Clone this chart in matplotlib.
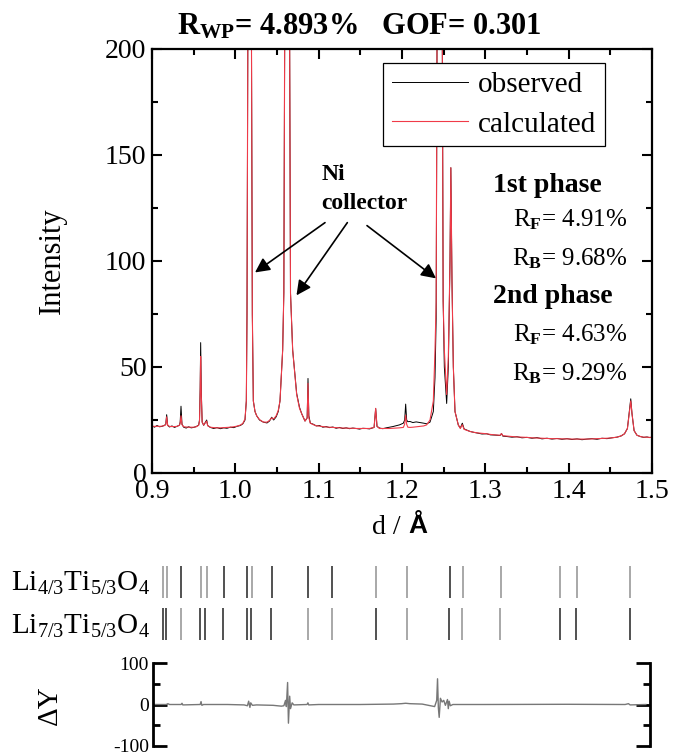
import numpy as np
import matplotlib
matplotlib.use("Agg")
import matplotlib.pyplot as plt
from matplotlib.ticker import MultipleLocator, FormatStrFormatter

plt.rcParams['font.family'] = ['Liberation Serif', 'DejaVu Serif']
plt.rcParams['mathtext.fontset'] = 'custom'
plt.rcParams['mathtext.rm'] = 'Liberation Serif'
plt.rcParams['mathtext.it'] = 'Liberation Serif:italic'
plt.rcParams['mathtext.bf'] = 'Liberation Serif:bold'

# profile: d spacing, observed and calculated intensity
d = [0.900, 0.903, 0.906, 0.909, 0.912, 0.915, 0.9165, 0.9176, 0.9188, 0.921, 0.924, 0.927, 0.930, 0.933,
     0.9338, 0.9348, 0.9360, 0.938, 0.941, 0.944, 0.947, 0.950, 0.953, 0.956, 0.9570, 0.9578, 0.9584, 0.9592,
     0.9602, 0.962, 0.9656, 0.9668, 0.970, 0.974, 0.978, 0.982, 0.986, 0.990, 0.994, 0.998, 1.002, 1.006,
     1.009, 1.0116, 1.0132, 1.0140, 1.0150, 1.0172, 1.0194, 1.0204, 1.0216, 1.0236, 1.0256, 1.029, 1.0336,
     1.038, 1.041, 1.0436, 1.046, 1.049, 1.0515, 1.0536, 1.0568, 1.0582, 1.0592, 1.0622, 1.0652, 1.0662,
     1.0688, 1.0736, 1.0770, 1.0796, 1.0836, 1.0862, 1.0872, 1.0882, 1.0900, 1.0936, 1.097, 1.101, 1.105,
     1.109, 1.113, 1.117, 1.121, 1.125, 1.129, 1.133, 1.137, 1.141, 1.145, 1.149, 1.153, 1.157, 1.161,
     1.1665, 1.1684, 1.1700, 1.173, 1.177, 1.181, 1.185, 1.189, 1.193, 1.197, 1.2016, 1.2032, 1.2044,
     1.2056, 1.2070, 1.2096, 1.213, 1.217, 1.2216, 1.226, 1.2296, 1.2336, 1.2376, 1.2396, 1.2410, 1.2420,
     1.2452, 1.2484, 1.2494, 1.2508, 1.2536, 1.2556, 1.2576, 1.2586, 1.2600, 1.2616, 1.2636, 1.2676, 1.2700,
     1.2724, 1.2745, 1.2780, 1.2816, 1.286, 1.291, 1.296, 1.3016, 1.306, 1.311, 1.3176, 1.3194, 1.321,
     1.326, 1.332, 1.338, 1.344, 1.350, 1.356, 1.362, 1.368, 1.374, 1.380, 1.386, 1.392, 1.398, 1.404,
     1.410, 1.416, 1.422, 1.428, 1.434, 1.440, 1.446, 1.452, 1.458, 1.463, 1.467, 1.4705, 1.4730, 1.4745,
     1.4760, 1.4785, 1.482, 1.486, 1.490, 1.494, 1.497, 1.500]
observed = [22.3, 21.6, 22.4, 21.8, 22.0, 22.5, 23.0, 27.5, 22.5, 21.7, 22.2, 21.5, 22.0, 22.6,
            24.0, 31.5, 23.0, 21.6, 21.2, 21.8, 21.3, 21.5, 21.9, 22.6, 25.0, 40.0, 61.5, 38.0,
            24.0, 22.5, 25.0, 22.4, 21.5, 21.0, 21.4, 20.9, 21.3, 21.1, 21.6, 21.4, 22.0, 22.4,
            23.2, 25.0, 34.0, 75.0, 200.0, 600.0, 200.0, 75.0, 34.0, 29.0, 27.0, 25.0, 24.0,
            23.6, 24.5, 26.3, 25.0, 26.5, 29.0, 34.0, 58.0, 85.0, 200.0, 600.0, 200.0, 85.0,
            58.0, 37.5, 31.0, 28.0, 24.5, 26.0, 44.6, 27.0, 23.5, 23.0, 22.2, 22.4, 21.6,
            21.9, 21.4, 21.7, 21.1, 21.5, 21.0, 21.3, 20.9, 21.2, 21.0, 20.7, 21.1, 21.0, 20.8,
            21.5, 30.4, 22.0, 21.2, 20.9, 21.3, 21.6, 21.9, 22.3, 22.7, 23.5, 25.0, 32.5,
            25.0, 24.2, 24.3, 23.8, 24.1, 23.8, 23.5, 23.2, 24.0, 29.0, 45.0, 73.0, 200.0,
            600.0, 200.0, 81.0, 50.0, 32.8, 50.0, 100.0, 144.0, 90.0, 50.0, 29.0, 22.6, 21.2,
            23.5, 20.8, 20.2, 19.6, 19.2, 18.8, 18.4, 18.5, 18.0, 17.9, 17.7, 18.6, 17.4,
            17.2, 16.9, 17.1, 16.6, 16.8, 16.4, 16.7, 16.1, 16.4, 16.0, 16.3, 15.9, 16.2, 15.8,
            16.1, 15.7, 16.0, 16.2, 15.9, 16.4, 16.2, 16.6, 16.9, 17.5, 18.5, 21.0, 30.0, 35.0,
            28.0, 20.0, 17.8, 17.2, 16.8, 17.0, 16.7, 16.9]
calculated = [22.0, 22.0, 22.0, 22.0, 22.1, 22.4, 22.8, 26.5, 22.4, 22.0, 21.9, 21.9, 22.0, 22.5,
              23.5, 27.0, 22.8, 21.8, 21.7, 21.6, 21.6, 21.6, 21.8, 22.5, 24.5, 38.0, 55.0, 36.0,
              24.0, 22.6, 24.5, 22.3, 21.6, 21.4, 21.3, 21.3, 21.4, 21.5, 21.6, 21.8, 22.1, 22.6,
              23.4, 25.5, 34.0, 75.0, 200.0, 600.0, 200.0, 75.0, 34.0, 29.0, 27.0, 25.2, 24.0,
              24.0, 24.8, 26.0, 25.5, 27.0, 29.5, 34.0, 58.0, 85.0, 200.0, 600.0, 200.0, 85.0,
              58.0, 37.0, 30.5, 28.0, 24.5, 26.0, 42.3, 26.0, 23.5, 22.8, 22.3, 22.1, 21.9,
              21.7, 21.6, 21.5, 21.4, 21.3, 21.2, 21.2, 21.1, 21.1, 21.0, 21.0, 21.0, 21.0, 21.0,
              21.5, 30.5, 22.0, 21.0, 21.0, 21.0, 21.0, 21.1, 21.2, 21.3, 21.5, 23.0, 27.3,
              23.0, 21.6, 21.5, 21.6, 21.8, 22.0, 22.2, 22.7, 25.0, 34.0, 58.0, 81.0, 200.0,
              600.0, 200.0, 81.0, 58.0, 37.0, 55.0, 100.0, 144.0, 90.0, 50.0, 29.0, 22.6, 21.0,
              22.8, 20.6, 20.1, 19.6, 19.2, 18.9, 18.7, 18.5, 18.2, 18.0, 17.8, 18.6, 17.6,
              17.4, 17.2, 17.0, 16.9, 16.8, 16.6, 16.5, 16.4, 16.3, 16.2, 16.2, 16.1, 16.1, 16.0,
              16.0, 16.0, 16.0, 16.1, 16.2, 16.3, 16.4, 16.6, 16.9, 17.5, 18.5, 21.0, 29.0, 34.0,
              28.0, 20.0, 17.8, 17.2, 16.9, 16.9, 16.8, 16.8]

# difference curve
d_diff = [0.900, 0.916, 0.918, 0.920, 0.934, 0.935, 0.936, 0.957, 0.958, 0.959, 0.961, 0.990, 1.010,
          1.014, 1.0155, 1.017, 1.018, 1.020, 1.025, 1.045, 1.055, 1.058, 1.060, 1.061, 1.0625, 1.0635,
          1.065, 1.066, 1.068, 1.070, 1.086, 1.087, 1.088, 1.100, 1.150, 1.190, 1.200, 1.205, 1.210,
          1.225, 1.235, 1.240, 1.2425, 1.2435, 1.2445, 1.2455, 1.247, 1.249, 1.251, 1.253, 1.2555,
          1.2565, 1.2575, 1.259, 1.262, 1.300, 1.400, 1.470, 1.474, 1.476, 1.495]
delta_y = [0, 0, 2, 0, 0, 3, -1, 0, 7, -2, 0, 0, -1,
           -3, 8, -7, 4, -2, -1, -2, -4, -3, 10, -5, 53, -45,
           20, -10, 4, -1, 0, 4, -1, 0, 0, 1, 2, 3, 2,
           1, -3, -5, 10, 62, -8, -31, 15, 6, 10, -2, 12,
           -10, 8, -3, 0, 0, 0.5, 0, 2, -1, 0]

# reflection positions of the two phases
refl_1 = [0.913, 0.918, 0.935, 0.959, 0.966, 0.986, 1.014, 1.020, 1.044, 1.087, 1.116, 1.169, 1.206,
          1.257, 1.273, 1.319, 1.390, 1.410, 1.473]
shade_1 = ['#999999', '#999999', '#333333', '#999999', '#999999', '#333333', '#333333', '#999999',
           '#333333', '#333333', '#333333', '#999999', '#999999', '#333333', '#999999', '#999999',
           '#999999', '#999999', '#999999']
refl_2 = [0.913, 0.917, 0.935, 0.958, 0.963, 0.985, 1.014, 1.019, 1.043, 1.087, 1.116, 1.169, 1.206,
          1.256, 1.272, 1.318, 1.389, 1.409, 1.473]
shade_2 = ['#333333', '#333333', '#999999', '#333333', '#333333', '#333333', '#333333', '#333333',
           '#333333', '#999999', '#999999', '#333333', '#999999', '#333333', '#999999', '#999999',
           '#333333', '#333333', '#333333']

W, H = 675, 756
fig = plt.figure(figsize=(6.75, 7.56), dpi=100)

def box(l, t, r, b):
    return [l / W, 1 - b / H, (r - l) / W, (b - t) / H]

# main pattern
ax = fig.add_axes(box(152, 49, 652, 473))
ax.plot(d, observed, color='black', lw=0.7, label='observed')
ax.plot(d, calculated, color='#f03a48', lw=0.8, label='calculated')
ax.set_xlim(0.9, 1.5)
ax.set_ylim(0, 200)
ax.xaxis.set_major_locator(MultipleLocator(0.1))
ax.xaxis.set_minor_locator(MultipleLocator(0.05))
ax.yaxis.set_major_locator(MultipleLocator(50))
ax.yaxis.set_minor_locator(MultipleLocator(25))
ax.xaxis.set_major_formatter(FormatStrFormatter('%.1f'))
ax.tick_params(which='both', direction='in', top=True, right=True, width=1.5, labelsize=20)
ax.tick_params(which='major', length=7, pad=4)
ax.tick_params(which='minor', length=4)
for s in ax.spines.values():
    s.set_linewidth(1.6)

leg = ax.legend(loc='upper right', bbox_to_anchor=(0.906, 0.967), fontsize=21, handlelength=2.6,
                fancybox=False, framealpha=1, edgecolor='black', borderpad=0.3, labelspacing=0.45,
                handletextpad=0.35, borderaxespad=0)
leg.get_frame().set_linewidth(0.9)

ax.text(1.1036, 134, 'Ni\ncollector', fontsize=17, fontweight='bold', ha='left', va='center',
        multialignment='left', linespacing=1.5)
arrow = dict(arrowstyle='-|>', color='black', lw=1.2, mutation_scale=22, shrinkA=0, shrinkB=0)
ax.annotate('', xy=(1.0236, 94.6), xytext=(1.1076, 118.1), arrowprops=arrow)
ax.annotate('', xy=(1.0734, 83.8), xytext=(1.1344, 118.1), arrowprops=arrow)
ax.annotate('', xy=(1.2408, 91.8), xytext=(1.1580, 116.7), arrowprops=arrow)

fig.text(493 / W, 1 - 185 / H, '1st phase', fontsize=20, fontweight='bold', ha='left', va='center')
fig.text(627 / W, 1 - 220 / H, r'R$_{\mathbf{F}}$= 4.91%', fontsize=18, ha='right', va='center')
fig.text(627 / W, 1 - 259 / H, r'R$_{\mathbf{B}}$= 9.68%', fontsize=18, ha='right', va='center')
fig.text(493 / W, 1 - 297 / H, '2nd phase', fontsize=20, fontweight='bold', ha='left', va='center')
fig.text(627 / W, 1 - 335 / H, r'R$_{\mathbf{F}}$= 4.63%', fontsize=18, ha='right', va='center')
fig.text(627 / W, 1 - 374 / H, r'R$_{\mathbf{B}}$= 9.29%', fontsize=18, ha='right', va='center')

fig.text(359 / W, 1 - 27 / H, r'R$_{\mathbf{WP}}$= 4.893%   GOF= 0.301', fontsize=22,
         fontweight='bold', ha='center', va='center')
fig.text(52 / W, 1 - 261 / H, 'Intensity', fontsize=22, rotation=90, ha='center', va='center')
fig.text(408 / W, 1 - 527 / H, 'd / ', fontsize=20, ha='right', va='center')
fig.text(408 / W, 1 - 526 / H, 'Å', fontsize=19, ha='left', va='center',
         family='Liberation Sans', fontweight='bold')

# reflection markers
axs = fig.add_axes(box(152, 566, 652, 640))
axs.vlines(refl_1, 42, 74, colors=shade_1, lw=1.2)
axs.vlines(refl_2, 0, 32, colors=shade_2, lw=1.2)
axs.set_xlim(0.9, 1.5)
axs.set_ylim(0, 74)
axs.axis('off')
fig.text(150 / W, 1 - 583 / H, r'Li$_{4/3}$Ti$_{5/3}$O$_{4}$', fontsize=21, ha='right', va='center')
fig.text(150 / W, 1 - 626 / H, r'Li$_{7/3}$Ti$_{5/3}$O$_{4}$', fontsize=21, ha='right', va='center')

# difference
axd = fig.add_axes(box(153, 663, 650, 746))
axd.plot(d_diff, delta_y, color='#777777', lw=1.0)
axd.set_xlim(0.9, 1.5)
axd.set_ylim(-100, 100)
axd.spines['top'].set_visible(False)
axd.spines['bottom'].set_visible(False)
axd.spines['left'].set_linewidth(2)
axd.spines['right'].set_linewidth(2)
axd.set_xticks([])
axd.set_yticks([-100, 0, 100])
axd.set_yticklabels(['-100', '0', '100'])
axd.yaxis.set_minor_locator(MultipleLocator(50))
axd.tick_params(axis='y', which='both', direction='in', left=True, right=True, width=2, labelsize=14,
                pad=3)
axd.tick_params(axis='y', which='major', length=10)
axd.tick_params(axis='y', which='minor', length=5)
fig.text(50 / W, 1 - 705 / H, 'ΔY', fontsize=21, rotation=90, ha='center', va='center')

fig.savefig('out.png', dpi=100)
